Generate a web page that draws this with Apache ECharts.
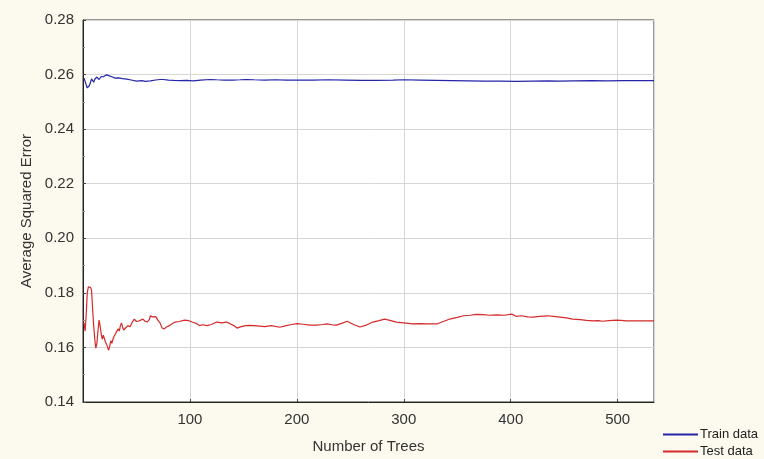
<!DOCTYPE html>
<html>
<head>
<meta charset="utf-8">
<script src="https://cdn.jsdelivr.net/npm/echarts@6/dist/echarts.min.js"></script>
<style>
html,body{margin:0;padding:0;background:#fcf9ef;}
#chart{width:764px;height:459px;}
</style>
</head>
<body>
<div id="chart"></div>
<script>
// Number of trees (x) and values
const trainTrees = [1,2,3,4,5,6,7,8,9,10,11,12,13,14,15,16,17,18,19,20,22,24,25,27,30,33,37,41,45,50,55,58,63,68,72,75,80,85,91,97,103,110,119,125,132,140,147,153,160,170,180,190,200,215,230,245,260,275,290,300,315,330,345,360,375,390,405,420,435,445,460,475,490,505,520,534];
const trainValues = [0.2587,0.2580,0.2562,0.2551,0.2556,0.2560,0.2572,0.2584,0.2586,0.2572,0.2583,0.2590,0.2591,0.2586,0.2582,0.2588,0.2593,0.2596,0.2592,0.2597,0.2599,0.2596,0.2594,0.2592,0.2587,0.2588,0.2585,0.2583,0.2580,0.2576,0.2578,0.2575,0.2577,0.2580,0.2582,0.2582,0.2580,0.2579,0.2578,0.2579,0.2577,0.2580,0.2582,0.2581,0.2580,0.2580,0.2581,0.2582,0.2581,0.2580,0.2581,0.2580,0.2580,0.2580,0.2581,0.2580,0.2579,0.2579,0.2580,0.2581,0.2580,0.2579,0.2578,0.2577,0.2576,0.2576,0.2575,0.2576,0.2577,0.2576,0.2577,0.2578,0.2577,0.2578,0.2578,0.2578];

const testTrees = [1,2,3,4,5,6,7,8,9,10,11,12,13,14,15,16,17,18,19,20,21,22,23,24,25,26,27,28,29,30,31,32,33,34,35,36,37,38,40,42,44,46,48,50,52,54,56,58,60,62,63,65,66,68,70,72,74,76,78,80,83,86,90,95,99,102,106,109,112,116,120,125,130,134,137,141,144,148,152,156,160,165,170,176,184,190,195,200,206,212,219,224,228,233,237,242,247,253,259,265,271,277,282,288,293,300,308,315,322,331,337,343,350,356,362,368,374,380,387,394,401,405,410,416,421,427,434,440,446,452,458,465,471,477,482,486,492,499,503,508,515,522,528,534];
const testValues = [0.1690,0.1660,0.1720,0.1800,0.1822,0.1815,0.1820,0.1810,0.1740,0.1680,0.1630,0.1597,0.1615,0.1660,0.1700,0.1680,0.1650,0.1630,0.1645,0.1640,0.1620,0.1612,0.1600,0.1590,0.1605,0.1625,0.1615,0.1630,0.1640,0.1646,0.1655,0.1648,0.1668,0.1660,0.1680,0.1690,0.1675,0.1664,0.1672,0.1680,0.1676,0.1692,0.1704,0.1695,0.1697,0.1700,0.1704,0.1696,0.1693,0.1702,0.1716,0.1712,0.1718,0.1713,0.1700,0.1690,0.1671,0.1668,0.1675,0.1678,0.1686,0.1693,0.1695,0.1700,0.1698,0.1693,0.1688,0.1680,0.1683,0.1680,0.1684,0.1693,0.1690,0.1693,0.1688,0.1680,0.1671,0.1676,0.1680,0.1681,0.1680,0.1678,0.1676,0.1680,0.1674,0.1680,0.1684,0.1687,0.1685,0.1682,0.1682,0.1684,0.1686,0.1683,0.1682,0.1688,0.1696,0.1684,0.1675,0.1682,0.1693,0.1698,0.1704,0.1698,0.1693,0.1690,0.1686,0.1687,0.1686,0.1686,0.1695,0.1704,0.1710,0.1716,0.1718,0.1721,0.1720,0.1718,0.1719,0.1718,0.1722,0.1714,0.1716,0.1712,0.1711,0.1714,0.1716,0.1714,0.1711,0.1708,0.1704,0.1702,0.1699,0.1697,0.1698,0.1696,0.1698,0.1700,0.1699,0.1697,0.1697,0.1697,0.1697,0.1697];

const yTicks = [0.14,0.16,0.18,0.20,0.22,0.24,0.26,0.28];
const seriesNames = ['Train data','Test data'];
const seriesColors = ['#2525a8','#d42a2a'];

function pairs(xs, ys){ return xs.map((x,i)=>[x, ys[i]]); }

const chart = echarts.init(document.getElementById('chart'));
const font = '"Liberation Sans", Arial, sans-serif';
function legendFor(i, top){
  return {
    left: 663, top: top, orient: 'vertical', padding: 0, itemGap: 0,
    itemWidth: 35, itemHeight: 2, icon: 'rect',
    textStyle: {fontFamily: font, fontSize: 13, color: '#222', padding: [0,0,0,-3]},
    data: [seriesNames[i]]
  };
}
chart.setOption({
  backgroundColor: '#fcf9ef',
  animation: false,
  textStyle: {fontFamily: font},
  grid: {left: 83, right: 110, top: 20, bottom: 49, show: true, backgroundColor: '#ffffff', borderColor: '#333', borderWidth: 1},
  legend: [legendFor(0, 428), legendFor(1, 445)],
  xAxis: {
    type: 'value', min: 0, max: 534, interval: 100,
    name: 'Number of Trees', nameLocation: 'middle', nameGap: 37,
    nameTextStyle: {fontSize: 15, color: '#333', fontFamily: font},
    axisLine: {show: true, lineStyle: {color: '#222', width: 1}},
    axisTick: {show: true, inside: true, length: 3, lineStyle: {color: '#444'}},
    axisLabel: {fontSize: 15, color: '#333', margin: 10, showMinLabel: false, showMaxLabel: false,
      formatter: v => (v === 0 ? '' : String(v))},
    splitLine: {show: true, lineStyle: {color: '#d6d6d6', width: 1}}
  },
  yAxis: {
    type: 'value', min: 0.14, max: 0.28, interval: 0.02,
    name: 'Average Squared Error', nameLocation: 'middle', nameGap: 49,
    nameTextStyle: {fontSize: 15, color: '#333', fontFamily: font},
    axisLine: {show: true, lineStyle: {color: '#222', width: 1}},
    axisTick: {show: true, inside: true, length: 3, lineStyle: {color: '#444'}},
    minorTick: {show: true, splitNumber: 2, length: 2, lineStyle: {color: '#888'}},
    axisLabel: {fontSize: 15, color: '#333', margin: 9,
      formatter: v => { const t = yTicks.find(k => Math.abs(k - v) < 1e-9); return (t !== undefined ? t : v).toFixed(2); }},
    splitLine: {show: true, lineStyle: {color: '#d6d6d6', width: 1}}
  },
  series: [
    {name: seriesNames[0], type: 'line', data: pairs(trainTrees, trainValues), showSymbol: false,
     lineStyle: {color: seriesColors[0], width: 1.2}, itemStyle: {color: seriesColors[0]}},
    {name: seriesNames[1], type: 'line', data: pairs(testTrees, testValues), showSymbol: false,
     lineStyle: {color: seriesColors[1], width: 1.2}, itemStyle: {color: seriesColors[1]}}
  ]
});
</script>
</body>
</html>
